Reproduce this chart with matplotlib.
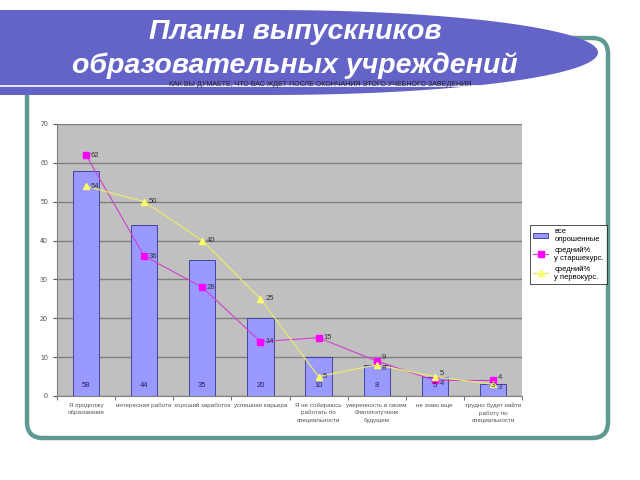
import matplotlib.pyplot as plt
import numpy as np
from matplotlib.patches import FancyBboxPatch, Polygon

plt.rcParams['font.family'] = ['Liberation Sans', 'DejaVu Sans']

categories = [
    "Я продолжу\nобразование",
    "интересная работа",
    "хороший заработок",
    "успешная карьера",
    "Я не собираюсь\nработать по\nспециальности",
    "уверенность в своем\nблагополучном\nбудущем",
    "не знаю еще",
    "трудно будет найти\nработу по\nспециальности",
]
all_asked = [58, 44, 35, 20, 10, 8, 5, 3]
senior = [62, 36, 28, 14, 15, 9, 4, 4]
first_year = [54, 50, 40, 25, 5, 8, 5, 3]

W, H = 640, 480
fig = plt.figure(figsize=(6.4, 4.8), dpi=100)
bg = fig.add_axes([0, 0, 1, 1])
bg.set_xlim(0, W)
bg.set_ylim(H, 0)
bg.axis("off")

# teal rounded frame
frame = FancyBboxPatch((27, 38), 581, 400, boxstyle="round,pad=0,rounding_size=16",
                       fill=False, edgecolor="#5f9a92", linewidth=3.2, zorder=1)
bg.add_patch(frame)

# banner: rectangle on the left + half ellipse on the right
xc, a, yc, b = 270, 328, 52.5, 42.5
t = np.linspace(np.pi / 2, -np.pi / 2, 100)
pts = [(0, yc - b)] + [(xc + a * np.cos(tt), yc - b * np.sin(tt)) for tt in t] + [(0, yc + b)]
bg.add_patch(Polygon(pts, closed=True, facecolor="#6464c8", edgecolor="none", zorder=2))
bg.plot([0, 480], [86, 86], color="white", lw=1.2, zorder=3)
bg.text(295, 32, "Планы выпускников", color="white", fontsize=20.5, fontweight="bold",
        style="italic", ha="center", va="center", zorder=4)
bg.text(295, 66, "образовательных учреждений", color="white", fontsize=20.5, fontweight="bold",
        style="italic", ha="center", va="center", zorder=4)
bg.text(320, 84, "КАК ВЫ ДУМАЕТЕ, ЧТО ВАС ЖДЕТ ПОСЛЕ ОКОНЧАНИЯ ЭТОГО УЧЕБНОГО ЗАВЕДЕНИЯ",
        fontsize=5, ha="center", va="center", color="#222222", zorder=5)

ax = fig.add_axes([57 / W, 1 - 396 / H, 465 / W, 272 / H])
ax.set_facecolor("#c0c0c0")
x = np.arange(len(categories))
ax.bar(x, all_asked, width=0.45, color="#9999ff", edgecolor="#333399", linewidth=0.6,
       label="все\nопрошенные", zorder=2)
ax.plot(x, senior, color="#d040d0", lw=0.8, marker="s", markersize=4,
        markerfacecolor="#ff00ff", markeredgecolor="#ff00ff", label="средний%\nу старшекурс.", zorder=3)
ax.plot(x, first_year, color="#e8e870", lw=0.9, marker="^", markersize=4,
        markerfacecolor="#ffff66", markeredgecolor="#ffff66", label="средний%\nу первокурс.", zorder=3)

for i in range(len(x)):
    # nudge close labels apart a little
    ds, df = 0, 0
    if abs(senior[i] - first_year[i]) < 3:
        ds = 0.8 if senior[i] >= first_year[i] else -0.8
        df = -ds
    ax.text(x[i], 2.7, str(all_asked[i]), ha="center", va="center", fontsize=5.5, color="#222266", zorder=4)
    ax.text(x[i] + 0.08, senior[i] + ds, str(senior[i]), ha="left", va="center", fontsize=5.5, color="#333333", zorder=4)
    ax.text(x[i] + 0.08, first_year[i] + df, str(first_year[i]), ha="left", va="center", fontsize=5.5, color="#333333", zorder=4)

ax.set_xlim(-0.5, len(x) - 0.5)
ax.set_ylim(0, 70)
ax.set_yticks(range(0, 71, 10))
ax.yaxis.grid(True, color="#808080", lw=1)
ax.set_axisbelow(True)
ax.set_xticks(x)
ax.set_xticklabels(categories, fontsize=4.5, color="#555555", linespacing=1.6)
ax.tick_params(axis="y", labelsize=5, colors="#555555", length=3)
ax.tick_params(axis="x", length=0, pad=5)
ax.set_xticks(np.arange(len(x) + 1) - 0.5, minor=True)
ax.tick_params(axis="x", which="minor", length=3, color="#555555")
for s in ax.spines.values():
    s.set_color("#808080")
    s.set_linewidth(0.8)
ax.spines["top"].set_visible(False)
ax.spines["right"].set_visible(False)

handles, labels = ax.get_legend_handles_labels()
order = [2, 0, 1]
leg = ax.legend([handles[k] for k in order], [labels[k] for k in order],
                loc="upper left", bbox_to_anchor=((526 - 57) / 465, 1 - (221 - 124) / 272),
                fontsize=5.5, frameon=True, fancybox=False, edgecolor="black",
                handlelength=2, borderpad=0.4, labelspacing=0.5)
leg.get_frame().set_linewidth(0.6)

fig.savefig("out.png", dpi=100)
